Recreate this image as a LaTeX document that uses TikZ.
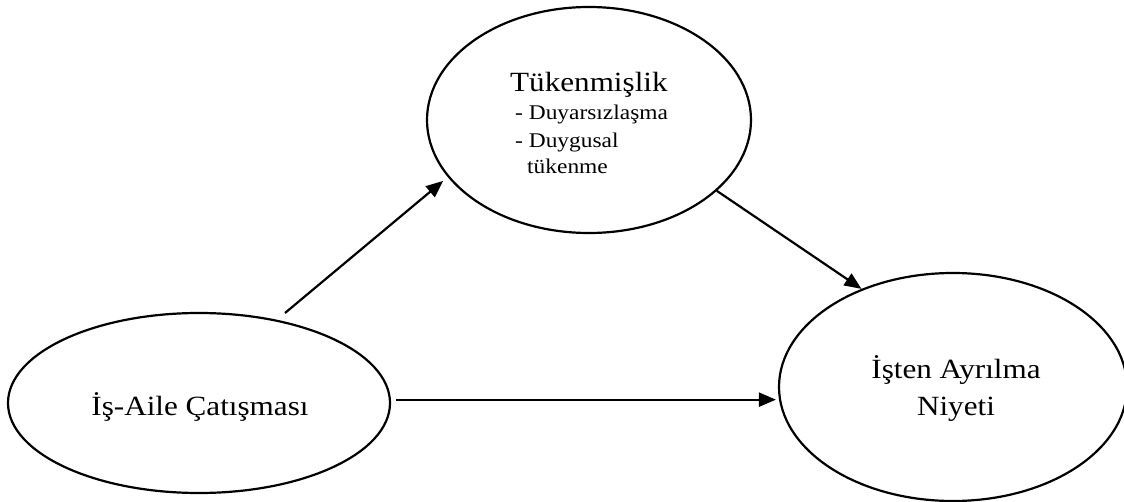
\documentclass[tikz,border=0pt]{standalone}
\usepackage{fontspec}
\setmainfont{Liberation Serif}[FakeStretch=1.12]
\usetikzlibrary{arrows.meta,shapes.geometric}
\begin{document}
\begin{tikzpicture}[x=1pt,y=-1pt,
  oval/.style={ellipse,draw,line width=2.2pt,inner sep=0pt},
  conn/.style={line width=2.2pt,-{Triangle[length=17pt,width=14pt]}},
  big/.style={font=\fontsize{27.8}{32}\selectfont,inner sep=0pt,anchor=base},
  small/.style={font=\fontsize{20.9}{24}\selectfont,inner sep=0pt,anchor=base west}]
\useasboundingbox (0,0) rectangle (1124,502);
\node[oval,minimum width=382pt,minimum height=180pt] (lf) at (199,403) {};
\node[oval,minimum width=324pt,minimum height=226pt] (tk) at (589,120) {};
\node[oval,minimum width=348pt,minimum height=228pt] (ny) at (953,387) {};
\node[big] (lft) at (200,415) {İş-Aile Çatışması};
\node[big,anchor=base west] (tk1) at (510,92) {Tükenmişlik};
\node[small] (tk2) at (515,120) {- Duyarsızlaşma};
\node[small] (tk3) at (515,148) {- Duygusal};
\node[small] (tk4) at (527,174) {tükenme};
\node[big] (ny1) at (956,378) {İşten Ayrılma};
\node[big] (ny2) at (956,415) {Niyeti};
\coordinate (s1) at (285,313);
\draw[conn,shorten >=6pt] (s1) -- (tk.202);
\draw[conn] (tk.-29.4) -- (ny.133.8);
\draw[conn,shorten <=5pt,shorten >=2pt] (lf.1.8) -- (lf.1.8 -| ny.west);
\end{tikzpicture}
\end{document}
